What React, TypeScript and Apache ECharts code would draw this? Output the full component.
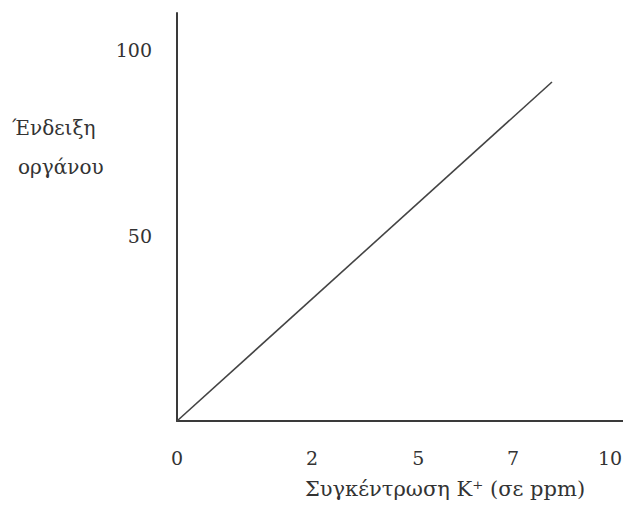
import React, { useEffect, useRef } from 'react';
import * as echarts from 'echarts';

// Tick labels of the x axis and where they sit on the (linear) value scale
const xTickLabels = ['0', '2', '5', '7', '10'];
const xTickPositions = [0, 3.12, 5.57, 7.76, 10];
// Tick labels of the y axis
const yTickValues = [50, 100];
// The calibration line (start and end points)
const concentration = [0, 8.66];
const reading = [0, 91.4];

const xTitle = 'Συγκέντρωση K⁺ (σε ppm)';
const yTitleLines = ['Ένδειξη', 'οργάνου'];

export default function App() {
  const ref = useRef<HTMLDivElement>(null);
  useEffect(() => {
    if (!ref.current) return;
    const chart = echarts.init(ref.current, null, { renderer: 'svg' });
    const font = '"DejaVu Serif", "Liberation Serif", serif';
    const textColor = '#333';
    const nearestIdx = (v: number) => {
      let best = -1;
      let bd = 1e9;
      xTickPositions.forEach((p, i) => {
        const d = Math.abs(p - v);
        if (d < bd) { bd = d; best = i; }
      });
      return bd < 0.01 ? best : -1;
    };
    chart.setOption({
      animation: false,
      backgroundColor: '#fff',
      grid: { left: 177, right: 0, top: 13, bottom: 86, containLabel: false, outerBoundsMode: 'none' },
      xAxis: {
        type: 'value',
        min: 0,
        max: 10.3,
        axisLine: { show: true, onZero: false, lineStyle: { color: '#3a3a3a', width: 2 } },
        axisTick: { show: false },
        splitLine: { show: false },
        axisLabel: {
          customValues: xTickPositions,
          formatter: (v: number) => {
            const i = nearestIdx(v);
            return i >= 0 ? xTickLabels[i] : '';
          },
          margin: 27,
          color: textColor,
          fontFamily: font,
          fontSize: 19,
        },
      },
      yAxis: {
        type: 'value',
        min: 0,
        max: 110,
        axisLine: { show: true, lineStyle: { color: '#3a3a3a', width: 2 } },
        axisTick: { show: false },
        splitLine: { show: false },
        axisLabel: {
          customValues: yTickValues,
          formatter: (v: number) => String(v),
          margin: 25,
          color: textColor,
          fontFamily: font,
          fontSize: 19,
        },
      },
      series: [
        {
          type: 'line',
          data: concentration.map((c, i) => [c, reading[i]]),
          symbol: 'none',
          lineStyle: { color: '#444', width: 1.6 },
        },
      ],
      graphic: [
        {
          type: 'text',
          x: 12,
          y: 128,
          style: { text: yTitleLines[0], fill: textColor, font: `20px ${font}`, textVerticalAlign: 'middle' },
        },
        {
          type: 'text',
          x: 18,
          y: 167,
          style: { text: yTitleLines[1], fill: textColor, font: `20px ${font}`, textVerticalAlign: 'middle' },
        },
        {
          type: 'text',
          x: 445,
          y: 489,
          style: { text: xTitle, fill: textColor, font: `21px ${font}`, textAlign: 'center', textVerticalAlign: 'middle' },
        },
      ],
    });
    return () => chart.dispose();
  }, []);
  return <div ref={ref} style={{ position: 'fixed', left: 0, top: 0, width: 623, height: 507 }} />;
}
